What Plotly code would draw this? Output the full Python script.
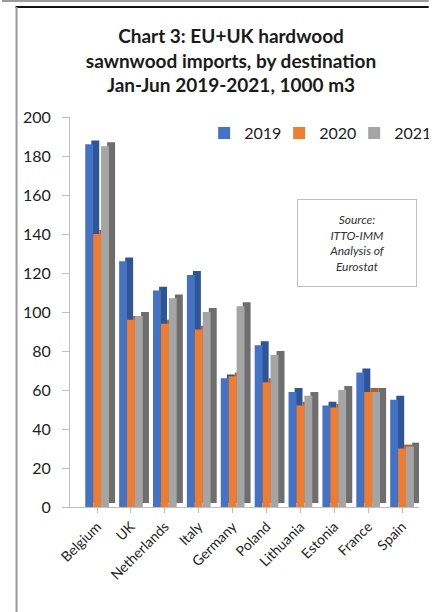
import plotly.graph_objects as go

categories = ["Belgium", "UK", "Netherlands", "Italy", "Germany", "Poland",
              "Lithuania", "Estonia", "France", "Spain"]
v2019 = [186, 126, 111, 119, 66, 83, 59, 52, 69, 55]
v2020 = [140, 96, 94, 91, 67, 64, 52, 51, 59, 30]
v2021 = [185, 98, 107, 100, 103, 78, 57, 60, 59, 31]
y_ticks = list(range(0, 201, 20))

series = [("2019", v2019, "#4472C4", "#2F5597"),
          ("2020", v2020, "#ED7D31", "#B85E1F"),
          ("2021", v2021, "#A5A5A5", "#6E6E6E")]

W, H = 439, 612
L, R, T, B = 70, 10, 117, 105
pw, ph = W - L - R, H - T - B

fig = go.Figure()

# depth (side/top faces) bars on x2/y2, drawn before the front faces
for name, vals, col, dark in series:
    fig.add_trace(go.Bar(x=categories, y=vals, name=name, marker_color=dark,
                         marker_line_width=0, xaxis="x2", yaxis="y2",
                         showlegend=False, hoverinfo="skip"))
# front faces on x3/y3
for name, vals, col, dark in series:
    fig.add_trace(go.Bar(x=categories, y=vals, name=name, marker_color=col,
                         marker_line_width=0, xaxis="x3", yaxis="y3"))

xr = [-0.8, 9.5]
shift_x = 0.18
shift_y = 2.0
font = "Lato, 'Liberation Sans', sans-serif"

fig.update_layout(
    width=W, height=H,
    margin=dict(l=L, r=R, t=T, b=B),
    paper_bgcolor="white", plot_bgcolor="rgba(0,0,0,0)",
    barmode="group", bargap=0.3, bargroupgap=0,
    font=dict(family=font, color="#222222"),
    title=dict(text="<b>Chart 3: EU+UK hardwood<br>sawnwood imports, by destination<br>Jan-Jun 2019-2021, 1000 m3</b>",
               x=231 / W, xref="container", xanchor="center",
               y=1 - 43 / H, yref="container", yanchor="middle",
               font=dict(size=19, family=font, color="#1a1a1a")),
    xaxis=dict(domain=[0, 1], range=xr, showticklabels=False, showgrid=False,
               zeroline=False, showline=False, ticks=""),
    yaxis=dict(domain=[0, 1], range=[0, 200], showticklabels=False, showgrid=True,
               gridcolor="#CFCFCF", gridwidth=1, tickvals=y_ticks, zeroline=False,
               showline=False, ticks=""),
    xaxis2=dict(domain=[0, 1], range=[xr[0] - shift_x, xr[1] - shift_x], visible=False,
                anchor="y2", overlaying="x"),
    yaxis2=dict(domain=[0, 1], range=[-shift_y, 200 - shift_y], visible=False,
                anchor="x2", overlaying="y"),
    xaxis3=dict(domain=[0, 1], range=xr, anchor="y3", overlaying="x", showgrid=False,
                tickangle=-45, tickfont=dict(size=14, family=font, color="#222222"),
                showline=True, linecolor="#BFBFBF", ticks="outside", ticklen=5,
                tickcolor="#BFBFBF", zeroline=False, tickmode="array",
                tickvals=categories),
    yaxis3=dict(domain=[0, 1], range=[0, 200], anchor="x3", overlaying="y",
                showgrid=False, tickvals=y_ticks, showline=True, linecolor="#BFBFBF",
                ticks="outside", ticklen=7, tickcolor="#BFBFBF", zeroline=False,
                ticklabelstandoff=8,
                tickfont=dict(size=16, family=font, color="#222222")),
    legend=dict(orientation="h", x=(208 - L) / pw, xanchor="left",
                y=(T + ph - 133) / ph, yanchor="middle",
                font=dict(size=16, family=font, color="#222222"),
                bgcolor="rgba(0,0,0,0)", itemwidth=30, tracegroupgap=0,
                entrywidth=30, entrywidthmode="pixels"),
)

# source box
fig.add_annotation(xref="paper", yref="paper", x=(365 - L) / pw, y=(T + ph - 243) / ph,
                   xanchor="center", yanchor="middle",
                   text="<i>Source:<br>ITTO-IMM<br>Analysis of<br>Eurostat</i>",
                   showarrow=False, font=dict(size=12, family=font, color="#333333"),
                   align="center", bordercolor="#BFBFBF", borderwidth=1, bgcolor="white",
                   width=118, height=86, borderpad=0)

def px_x(p):
    return (p - L) / pw

def px_y(p):
    return (T + ph - p) / ph

# frame lines
fig.add_shape(type="line", xref="paper", yref="paper", x0=px_x(0), x1=px_x(W),
              y0=px_y(1), y1=px_y(1), line=dict(color="#9a9a9a", width=2))
fig.add_shape(type="line", xref="paper", yref="paper", x0=px_x(14), x1=px_x(W),
              y0=px_y(7), y1=px_y(7), line=dict(color="#111111", width=2))
fig.add_shape(type="line", xref="paper", yref="paper", x0=px_x(15), x1=px_x(15),
              y0=px_y(7), y1=px_y(H), line=dict(color="#9a9a9a", width=2))

fig.write_html("out.html")
